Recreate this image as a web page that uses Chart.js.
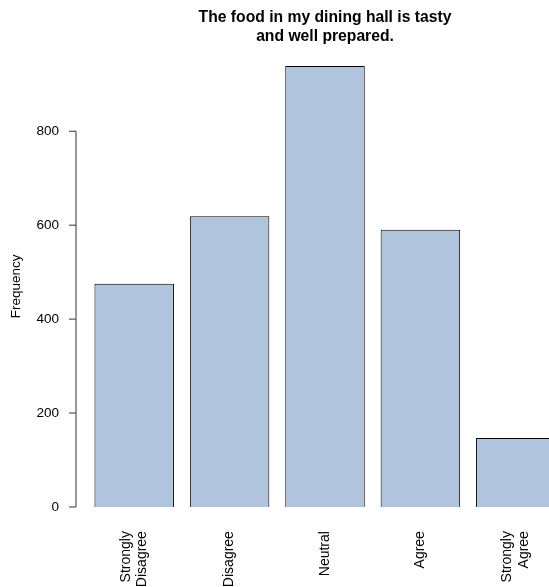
<!DOCTYPE html>
<html>
<head>
<meta charset="utf-8">
<script src="https://cdn.jsdelivr.net/npm/chart.js@4"></script>
<style>
    html, body { margin: 0; padding: 0; background: #fff; overflow: hidden; }
    #wrap { width: 654px; height: 587px; }
</style>
</head>
<body>
<div id="wrap"><canvas id="myChart" width="654" height="587"></canvas></div>
<script>
var categories = [["Strongly", "Disagree"], ["Disagree"], ["Neutral"], ["Agree"], ["Strongly", "Agree"]];
var frequency = [475, 619, 939, 590, 147];
var yTicks = [0, 200, 400, 600, 800];
var titleLines = ["The food in my dining hall is tasty", "and well prepared."];

var fontFamily = "'Liberation Sans', Arial, sans-serif";
// R pads the y range by 4%
var yPad = 0.04 * Math.max.apply(null, frequency);

// R style axes: y axis line only spans the ticks, labels under the bars rotated
var rAxes = {
    id: "rAxes",
    afterDraw: function (chart) {
        var c = chart.ctx;
        var area = chart.chartArea;
        var y = chart.scales.y;
        var x = chart.scales.x;
        var ax = area.left - 10.5;

        c.save();
        c.strokeStyle = "#333";
        c.lineWidth = 1;
        c.beginPath();
        c.moveTo(ax, y.getPixelForValue(yTicks[0]));
        c.lineTo(ax, y.getPixelForValue(yTicks[yTicks.length - 1]));
        yTicks.forEach(function (t) {
            var py = y.getPixelForValue(t);
            c.moveTo(ax, py);
            c.lineTo(ax - 7, py);
        });
        c.stroke();

        c.fillStyle = "#000";
        c.font = "13.5px " + fontFamily;
        c.textAlign = "right";
        c.textBaseline = "middle";
        yTicks.forEach(function (t) {
            c.fillText(String(t), ax - 17, y.getPixelForValue(t));
        });

        // axis title
        c.save();
        c.translate(ax - 60, (area.top + area.bottom) / 2);
        c.rotate(-Math.PI / 2);
        c.textAlign = "center";
        c.fillText("Frequency", 0, 0);
        c.restore();

        // category labels, reading upwards
        c.font = "14px " + fontFamily;
        var lh = 16.8;
        categories.forEach(function (lines, i) {
            c.save();
            c.translate(x.getPixelForValue(i), area.bottom + 6.5);
            c.rotate(-Math.PI / 2);
            c.textAlign = "right";
            c.textBaseline = "middle";
            lines.forEach(function (ln, j) {
                c.fillText(ln, 0, (j - (lines.length - 1) / 2) * lh);
            });
            c.restore();
        });
        c.restore();
    }
};

var ctx = document.getElementById("myChart").getContext("2d");
var myChart = new Chart(ctx, {
    type: "bar",
    data: {
        labels: categories.map(function (l) { return l.join(" "); }),
        datasets: [
            {
                label: "Frequency",
                data: frequency,
                backgroundColor: "#B0C4DE",
                borderColor: "#000",
                borderWidth: 1,
                barPercentage: 1 / 1.2,
                categoryPercentage: 1,
            },
        ],
    },
    options: {
        responsive: false,
        animation: false,
        devicePixelRatio: 1,
        layout: {
            padding: { left: 86.5, right: 90.5, top: 0, bottom: 62.4 },
        },
        plugins: {
            legend: { display: false },
            tooltip: { enabled: false },
            title: {
                display: true,
                text: titleLines,
                color: "#000",
                font: { family: fontFamily, size: 15.7, weight: "bold", lineHeight: 1.22 },
                padding: { top: 8.4, bottom: 1.6 },
            },
        },
        scales: {
            x: { display: false },
            y: {
                display: false,
                min: -yPad,
                max: Math.max.apply(null, frequency) + yPad,
            },
        },
    },
    plugins: [rAxes],
});
</script>
</body>
</html>
